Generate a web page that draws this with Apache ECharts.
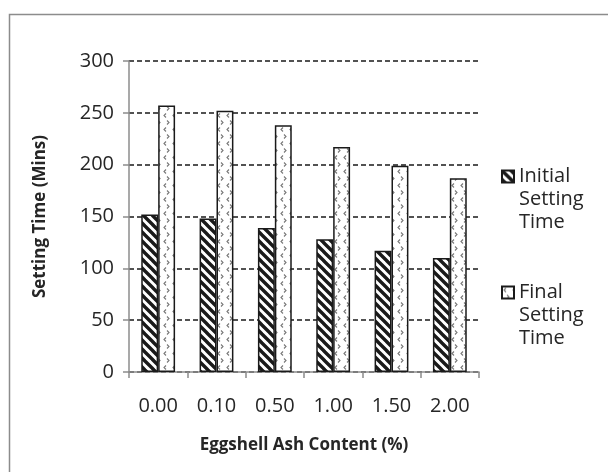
<!DOCTYPE html>
<html>
<head>
<meta charset="utf-8">
<script src="https://cdn.jsdelivr.net/npm/echarts@6/dist/echarts.min.js"></script>
<style>html,body{margin:0;padding:0;background:#fff}#c{width:608px;height:472px}</style>
</head>
<body>
<div id="c"></div>
<script>
const categories = ['0.00', '0.10', '0.50', '1.00', '1.50', '2.00'];
const initialSetting = [152, 148, 139, 128, 117, 110];
const finalSetting = [257, 252, 238, 217, 199, 187];
const seriesNames = ['Initial Setting Time', 'Final Setting Time'];
const legendLabels = {'Initial Setting Time': 'Initial\nSetting\nTime', 'Final Setting Time': 'Final\nSetting\nTime'};

function stripePattern() {
  const s = 9;
  const c = document.createElement('canvas');
  c.width = s; c.height = s;
  const g = c.getContext('2d');
  g.fillStyle = '#fff'; g.fillRect(0, 0, s, s);
  g.strokeStyle = '#1a1a1a'; g.lineWidth = 3.4;
  g.beginPath();
  for (let k = -1; k <= 1; k++) {
    g.moveTo(k * s - 1, -1); g.lineTo(k * s + s + 1, s + 1);
  }
  g.stroke();
  return c;
}
function dotPattern() {
  const w = 9, h = 14;
  const c = document.createElement('canvas');
  c.width = w; c.height = h;
  const g = c.getContext('2d');
  g.fillStyle = '#fff'; g.fillRect(0, 0, w, h);
  g.strokeStyle = '#777'; g.lineWidth = 1.1;
  g.beginPath();
  g.moveTo(4, 1.5); g.lineTo(2, 3.5); g.lineTo(4, 5.5);
  g.moveTo(5, 8.5); g.lineTo(7, 10.5); g.lineTo(5, 12.5);
  g.stroke();
  return c;
}

const chart = echarts.init(document.getElementById('c'), null, {renderer: 'canvas'});
const font = '"Open Sans", "Noto Sans", "Liberation Sans", sans-serif';
chart.setOption({
  animation: false,
  graphic: [{
    type: 'rect', left: 7, top: 12, shape: {width: 640, height: 500},
    style: {fill: 'none', stroke: '#8c8c8c', lineWidth: 1.5}, silent: true
  }],
  grid: {left: 129, right: 129, top: 61, bottom: 100},
  legend: {
    orient: 'vertical', left: 496, top: 114, itemWidth: 12, itemHeight: 12,
    itemGap: 1, icon: 'rect',
    formatter: function (n) { return '\n\n' + legendLabels[n]; },
    textStyle: {fontFamily: font, fontSize: 20, color: '#262626', lineHeight: 23},
    data: seriesNames
  },
  xAxis: {
    type: 'category', data: categories,
    name: 'Eggshell Ash Content (%)', nameLocation: 'middle', nameGap: 65,
    nameTextStyle: {fontFamily: font, fontSize: 17, fontWeight: 'bold', color: '#262626'},
    axisLine: {lineStyle: {color: '#8c8c8c', width: 1.5}},
    axisTick: {show: true, length: 6, lineStyle: {color: '#8c8c8c', width: 1.5}},
    axisLabel: {fontFamily: font, fontSize: 20, color: '#262626', margin: 24}
  },
  yAxis: {
    type: 'value', min: 0, max: 300, interval: 50,
    name: 'Setting Time (Mins)', nameLocation: 'middle', nameGap: 80,
    nameTextStyle: {fontFamily: font, fontSize: 17, fontWeight: 'bold', color: '#262626'},
    axisLine: {show: true, lineStyle: {color: '#8c8c8c', width: 1.5}},
    axisTick: {show: true, length: 6, lineStyle: {color: '#8c8c8c', width: 1.5}},
    axisLabel: {fontFamily: font, fontSize: 20, color: '#262626', margin: 15},
    splitLine: {lineStyle: {color: '#1a1a1a', type: [5, 3], width: 1.5}}
  },
  series: [
    {
      name: seriesNames[0], type: 'bar', data: initialSetting,
      barGap: '0%', barCategoryGap: '42%',
      itemStyle: {color: {image: stripePattern(), repeat: 'repeat'}, borderColor: '#1a1a1a', borderWidth: 1.5}
    },
    {
      name: seriesNames[1], type: 'bar', data: finalSetting,
      barGap: '0%', barCategoryGap: '42%',
      itemStyle: {color: {image: dotPattern(), repeat: 'repeat'}, borderColor: '#1a1a1a', borderWidth: 1.5}
    }
  ]
});
</script>
</body>
</html>
